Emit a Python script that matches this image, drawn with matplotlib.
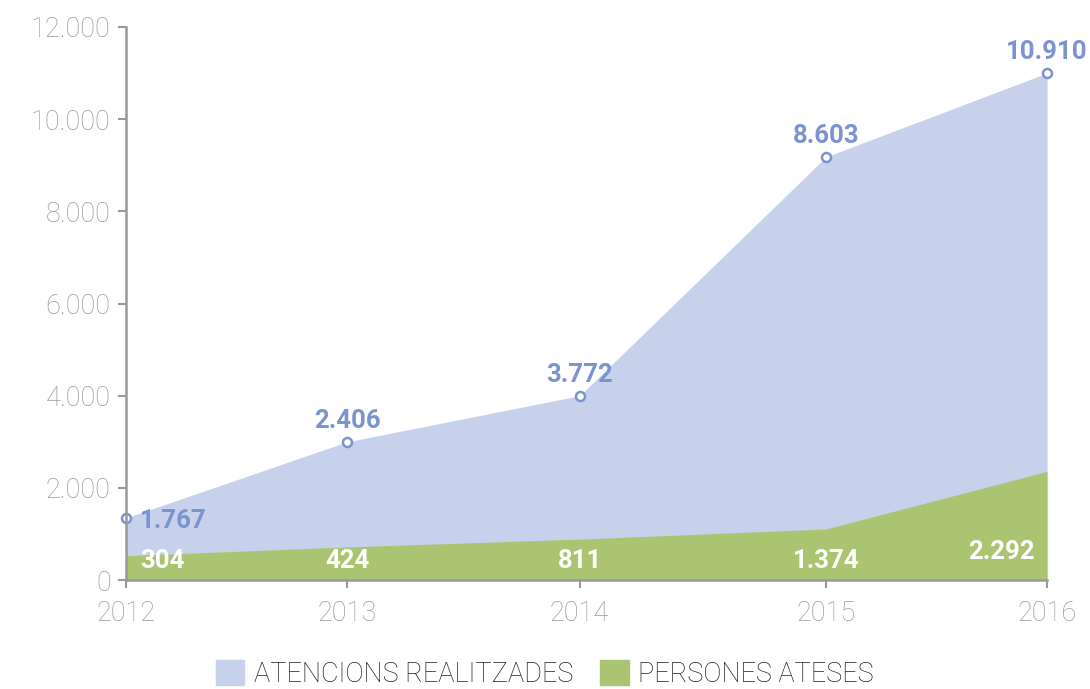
import matplotlib.pyplot as plt
from matplotlib.patches import Patch
from matplotlib.ticker import FuncFormatter

years = ['2012', '2013', '2014', '2015', '2016']
# horizontal positions of the points as placed in the picture (not evenly spaced)
x_pos = [2012.0, 2012.96, 2013.97, 2015.04, 2016.0]
# heights of the areas as drawn in the picture
atencions = [1350, 3000, 4000, 9180, 11000]
persones = [530, 720, 890, 1110, 2360]
# printed value labels
atencions_labels = ['1.767', '2.406', '3.772', '8.603', '10.910']
persones_labels = ['304', '424', '811', '1.374', '2.292']
series_names = ['ATENCIONS REALITZADES', 'PERSONES ATESES']

blue_fill = '#c8d1eb'
blue_text = '#7b93cf'
green_fill = '#abc472'
grey = '#9a9a9a'

plt.rcParams['font.family'] = ['Roboto', 'DejaVu Sans']

fig = plt.figure(figsize=(10.9, 6.89), dpi=100)
ax = fig.add_axes([0.1156, 0.158, 0.845, 0.803])

ax.fill_between(x_pos, 0, atencions, color=blue_fill, lw=0)
ax.fill_between(x_pos, 0, persones, color=green_fill, lw=0)
ax.plot(x_pos, atencions, ls='none', marker='o', ms=6.5, mfc='white',
        mec=blue_text, mew=1.8, clip_on=False, zorder=5)

lab_size = 18.5
for i, (x, y, lab) in enumerate(zip(x_pos, atencions, atencions_labels)):
    if i == 0:
        ax.annotate(lab, (x, y), xytext=(10, -2), textcoords='offset points',
                    ha='left', va='center', color=blue_text, fontsize=lab_size,
                    fontweight='bold', annotation_clip=False)
    else:
        ax.annotate(lab, (x, y), xytext=(0, 15), textcoords='offset points',
                    ha='center', va='center', color=blue_text, fontsize=lab_size,
                    fontweight='bold', annotation_clip=False)

for i, (x, lab) in enumerate(zip(x_pos, persones_labels)):
    if i == 0:
        ax.annotate(lab, (x, 0), xytext=(10, 14), textcoords='offset points',
                    ha='left', va='center', color='white', fontsize=lab_size,
                    fontweight='bold')
    elif i == len(x_pos) - 1:
        ax.annotate(lab, (x, 0), xytext=(-9, 20), textcoords='offset points',
                    ha='right', va='center', color='white', fontsize=lab_size,
                    fontweight='bold')
    else:
        ax.annotate(lab, (x, 0), xytext=(0, 14), textcoords='offset points',
                    ha='center', va='center', color='white', fontsize=lab_size,
                    fontweight='bold')

ax.set_xlim(x_pos[0], x_pos[-1])
ax.set_ylim(0, 12000)
ax.set_xticks(x_pos)
ax.set_xticklabels(years)
ax.set_yticks(range(0, 12001, 2000))
ax.yaxis.set_major_formatter(FuncFormatter(lambda v, p: f'{int(v):,}'.replace(',', '.')))

for s in ['top', 'right']:
    ax.spines[s].set_visible(False)
for s in ['left', 'bottom']:
    ax.spines[s].set_color('#999999')
    ax.spines[s].set_linewidth(1.8)
    ax.spines[s].set_zorder(6)

ax.tick_params(axis='both', colors='#999999', width=1.5, length=6,
               labelcolor=grey, labelsize=19.5)
ax.tick_params(axis='x', pad=8)
ax.tick_params(axis='y', pad=5)
for t in ax.get_xticklabels() + ax.get_yticklabels():
    t.set_fontweight('light')

handles = [Patch(color=blue_fill), Patch(color=green_fill)]
leg = fig.legend(handles, series_names, loc='lower center',
                 bbox_to_anchor=(0.5, -0.034), ncol=2, frameon=False,
                 fontsize=19.5, handlelength=1.05, handleheight=1.05,
                 handletextpad=0.35, columnspacing=1.0)
for t in leg.get_texts():
    t.set_color('#222222')
    t.set_fontweight('light')

fig.savefig('out.png', dpi=100)
